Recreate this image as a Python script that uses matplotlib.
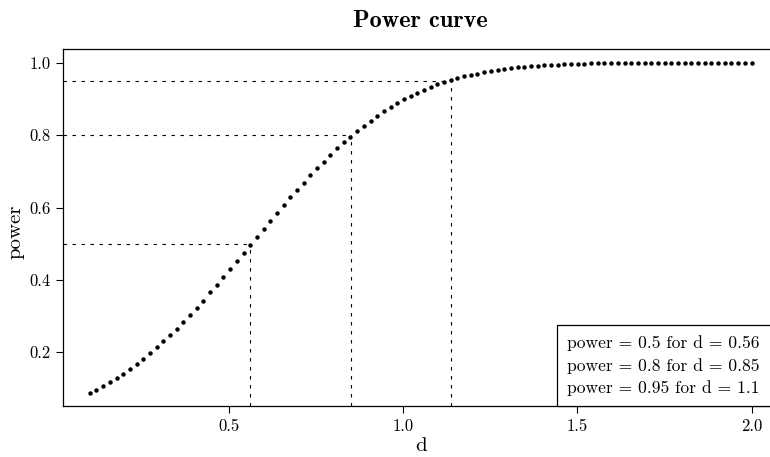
import numpy as np
import matplotlib
matplotlib.use("Agg")
import matplotlib.pyplot as plt
from matplotlib.lines import Line2D

plt.rcParams['font.family'] = ['cmr10', 'DejaVu Serif']
plt.rcParams['axes.formatter.use_mathtext'] = True

# effect sizes (100 points from 0.1 to 2.0) and power
d_values = np.linspace(0.1, 2.0, 100)
power = [
    0.087, 0.097, 0.106, 0.117, 0.129, 0.141, 0.154, 0.168, 0.182, 0.198,
    0.214, 0.230, 0.248, 0.265, 0.284, 0.303, 0.323, 0.343, 0.366, 0.387,
    0.409, 0.430, 0.452, 0.474, 0.497, 0.519, 0.541, 0.563, 0.585, 0.607,
    0.628, 0.649, 0.669, 0.689, 0.708, 0.727, 0.745, 0.763, 0.780, 0.796,
    0.811, 0.826, 0.840, 0.853, 0.866, 0.877, 0.888, 0.899, 0.908, 0.917,
    0.925, 0.933, 0.940, 0.946, 0.952, 0.957, 0.962, 0.966, 0.970, 0.974,
    0.977, 0.980, 0.983, 0.985, 0.987, 0.989, 0.990, 0.992, 0.993, 0.994,
    0.995, 0.996, 0.996, 0.997, 0.997, 0.998, 0.998, 0.998, 0.999, 0.999,
    0.999, 0.999, 0.999, 0.999, 1.000, 1.000, 1.000, 1.000, 1.000, 1.000,
    1.000, 1.000, 1.000, 1.000, 1.000, 1.000, 1.000, 1.000, 1.000, 1.000,
]
target_power = [0.5, 0.8, 0.95]
target_d = [0.56, 0.85, 1.137]
x_ticks = [0.5, 1.0, 1.5, 2.0]
y_ticks = [0.2, 0.4, 0.6, 0.8, 1.0]

fig = plt.figure(figsize=(7.7, 4.57), dpi=100)
ax = fig.add_axes([0.0822, 0.1107, 0.9282, 0.781])

# R style 4% axis expansion
xr = d_values[-1] - d_values[0]
xlim = (d_values[0] - 0.04 * xr, d_values[-1] + 0.04 * xr)
yr = max(power) - min(power)
ylim = (min(power) - 0.04 * yr, max(power) + 0.04 * yr)

ax.plot(d_values, power, 'o', color='black', ms=3.2, mew=0)

dots = (0, (3.1, 5))
for p, d in zip(target_power, target_d):
    ax.plot([xlim[0], d], [p, p], color='black', lw=0.8, linestyle=dots)
    ax.plot([d, d], [ylim[0], p], color='black', lw=0.8, linestyle=dots)

ax.set_xlim(xlim)
ax.set_ylim(ylim)
ax.set_xticks(x_ticks)
ax.set_yticks(y_ticks)
ax.set_xticklabels(["{:.1f}".format(v) for v in x_ticks])
ax.set_yticklabels(["{:.1f}".format(v) for v in y_ticks])
ax.tick_params(labelsize=12, length=4.8, width=0.8, pad=4.2)
for s in ax.spines.values():
    s.set_linewidth(0.9)

ax.set_xlabel("d", fontsize=15, labelpad=2)
ax.set_ylabel("power", fontsize=15)
ax.yaxis.set_label_coords(-0.054, 0.49)
ax.set_title("Power curve", fontsize=17.5, family='cmb10', pad=16)

labels = ["power = {} for d = {:.2g}".format(p, d) for p, d in zip(target_power, target_d)]
handles = [Line2D([], [], linestyle='none') for _ in labels]
leg = ax.legend(handles, labels, loc='lower right', borderaxespad=0, fontsize=12.6,
                frameon=True, fancybox=False, edgecolor='black', framealpha=1,
                markerfirst=False, handlelength=0.23, handletextpad=0.2,
                labelspacing=0.37, borderpad=0.6)
leg.get_frame().set_linewidth(0.9)

fig.savefig("out.png", dpi=100)
